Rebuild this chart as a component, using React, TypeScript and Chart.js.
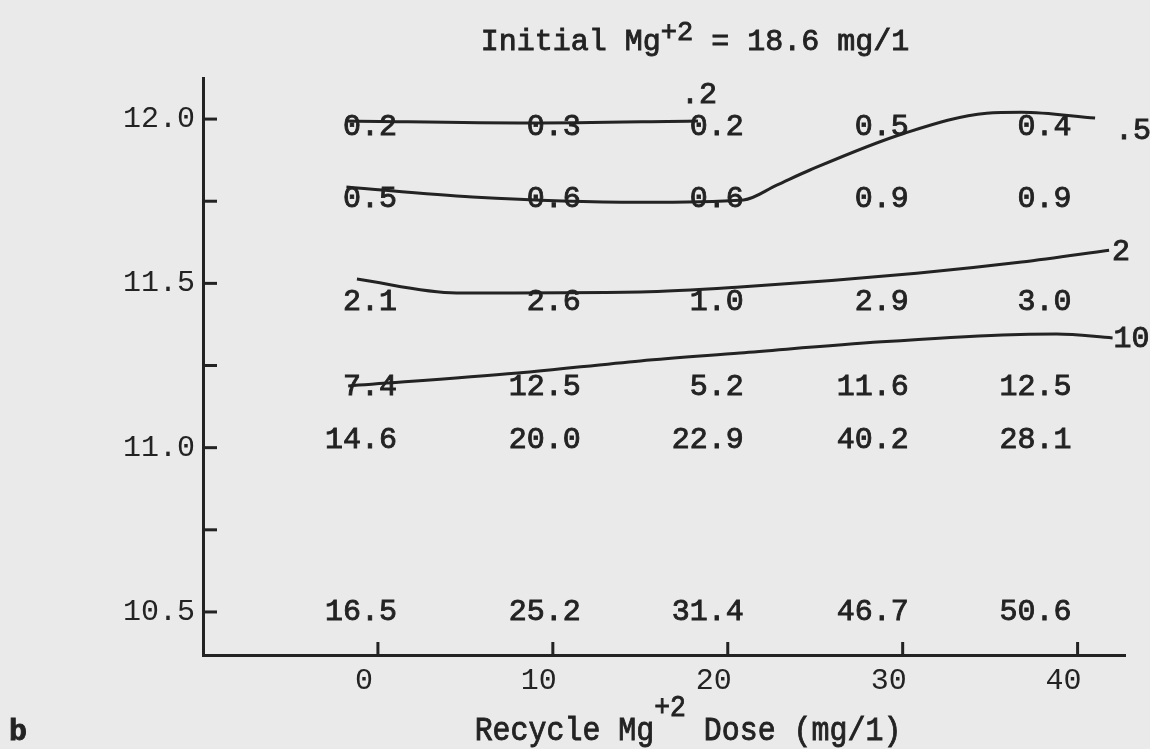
import React, { useEffect, useRef } from "react";
import { Chart, registerables } from "chart.js";

Chart.register(...registerables);

// ---------------- data ----------------
const doses = [0, 10, 20, 30, 40]; // Recycle Mg+2 dose (mg/l)
const phRows = [12.0, 11.75, 11.5, 11.25, 11.0, 10.5];

const valuesPH120 = ["0.2", "0.3", "0.2", "0.5", "0.4"];
const valuesPH1175 = ["0.5", "0.6", "0.6", "0.9", "0.9"];
const valuesPH115 = ["2.1", "2.6", "1.0", "2.9", "3.0"];
const valuesPH1125 = ["7.4", "12.5", "5.2", "11.6", "12.5"];
const valuesPH110 = ["14.6", "20.0", "22.9", "40.2", "28.1"];
const valuesPH105 = ["16.5", "25.2", "31.4", "46.7", "50.6"];

const xTickValues = [0, 10, 20, 30, 40];
const yTickValues = [10.5, 10.75, 11.0, 11.25, 11.5, 11.75, 12.0];
const yLabeledTicks = [10.5, 11.0, 11.5, 12.0];

// contour lines (dose, pH)
const contour02Label = ".2";
const contour02X = [-1.8, 8.7, 18.3];
const contour02Y = [11.994, 11.988, 11.994];

const contour05Label = ".5";
const contour05X = [-1.8, 5.4, 15.0, 20.9, 22.8, 24.7, 30.1, 34.8, 36.8, 41.0];
const contour05Y = [11.793, 11.763, 11.747, 11.754, 11.799, 11.845, 11.957, 12.018, 12.021, 12.003];

const contour2Label = "2";
const contour2X = [-1.2, 4.5, 15.0, 20.7, 30.8, 36.8, 41.8];
const contour2Y = [11.513, 11.471, 11.474, 11.489, 11.531, 11.565, 11.601];

const contour10Label = "10";
const contour10X = [-1.7, 8.0, 15.0, 20.7, 28.8, 35.7, 38.8, 42.0];
const contour10Y = [11.188, 11.227, 11.264, 11.288, 11.322, 11.343, 11.346, 11.334];

const titleMain = "Initial Mg";
const titleSup = "+2";
const titleRest = " = 18.6 mg/1";
const xTitleMain = "Recycle Mg";
const xTitleSup = "+2";
const xTitleRest = " Dose (mg/1)";
const panelLabel = "b";

// ---------------- style ----------------
const INK = "#232323";
const BG = "#eaeaea";
const MONO = '"Liberation Mono", "Courier New", monospace';

const valueRows = [valuesPH120, valuesPH1175, valuesPH115, valuesPH1125, valuesPH110, valuesPH105];
const rowBaselineShift = [16, 6, 27, 29, 0, 8];
const colRightShift = [19, 28, 16, 6, -6];

const contours = [
  { label: contour02Label, xs: contour02X, ys: contour02Y, dx: -17, dy: -18, align: "left" },
  { label: contour05Label, xs: contour05X, ys: contour05Y, dx: 20, dy: 21, align: "left" },
  { label: contour2Label, xs: contour2X, ys: contour2Y, dx: 3, dy: 10, align: "left" },
  { label: contour10Label, xs: contour10X, ys: contour10Y, dx: 1, dy: 9, align: "left" },
];

function typeText(ctx: CanvasRenderingContext2D, text: string, x: number, y: number, size: number, align: CanvasTextAlign = "left", sx = 1, bold = false) {
  ctx.save();
  ctx.font = `${bold ? "bold " : ""}${size}px ${MONO}`;
  const w = ctx.measureText(text).width * sx;
  ctx.textAlign = align;
  ctx.textBaseline = "alphabetic";
  ctx.translate(x, y);
  ctx.scale(sx, 1);
  ctx.fillStyle = INK;
  ctx.strokeStyle = INK;
  ctx.lineWidth = 0.9;
  ctx.fillText(text, 0, 0);
  ctx.strokeText(text, 0, 0);
  ctx.restore();
  return w;
}

function measure(ctx: CanvasRenderingContext2D, text: string, size: number, sx = 1) {
  ctx.save();
  ctx.font = `${size}px ${MONO}`;
  const w = ctx.measureText(text).width * sx;
  ctx.restore();
  return w;
}

const paperPlugin = {
  id: "paper",
  beforeDraw(chart: any) {
    const ctx = chart.ctx;
    ctx.save();
    ctx.fillStyle = BG;
    ctx.fillRect(0, 0, chart.width, chart.height);
    ctx.restore();
  },
  afterDraw(chart: any) {
    const ctx: CanvasRenderingContext2D = chart.ctx;
    const xs = chart.scales.x;
    const ys = chart.scales.y;
    const area = chart.chartArea;

    // inward tick marks
    ctx.save();
    ctx.strokeStyle = INK;
    ctx.lineWidth = 3;
    for (const v of yTickValues) {
      const py = ys.getPixelForValue(v);
      ctx.beginPath();
      ctx.moveTo(area.left, py);
      ctx.lineTo(area.left + 14, py);
      ctx.stroke();
    }
    for (const v of xTickValues) {
      const px = xs.getPixelForValue(v);
      ctx.beginPath();
      ctx.moveTo(px, area.bottom);
      ctx.lineTo(px, area.bottom - 13);
      ctx.stroke();
    }
    ctx.restore();

    // typed values at (dose, pH)
    valueRows.forEach((row, i) => {
      const py = ys.getPixelForValue(phRows[i]) + rowBaselineShift[i];
      row.forEach((txt, j) => {
        const px = xs.getPixelForValue(doses[j]) + colRightShift[j];
        typeText(ctx, txt, px, py, 30, "right");
      });
    });

    // contour labels at line ends
    for (const c of contours) {
      const n = c.xs.length - 1;
      const px = xs.getPixelForValue(c.xs[n]) + c.dx;
      const py = ys.getPixelForValue(c.ys[n]) + c.dy;
      typeText(ctx, c.label, px, py, 30, c.align as CanvasTextAlign);
    }

    // title with superscript
    {
      const w1 = measure(ctx, titleMain, 30);
      const w2 = measure(ctx, titleSup, 27);
      const w3 = measure(ctx, titleRest, 30);
      let left = 695 - (w1 + w2 + w3) / 2;
      typeText(ctx, titleMain, left, 50, 30);
      left += w1;
      typeText(ctx, titleSup, left, 40, 27);
      left += w2;
      typeText(ctx, titleRest, left, 50, 30);
    }

    // x axis title with superscript (narrow face)
    {
      const sx = 0.88;
      const w1 = measure(ctx, xTitleMain, 34, sx);
      const w2 = measure(ctx, xTitleSup, 30, sx);
      const w3 = measure(ctx, xTitleRest, 34, sx);
      let left = 688 - (w1 + w2 + w3) / 2;
      typeText(ctx, xTitleMain, left, 740, 34, "left", sx);
      left += w1;
      typeText(ctx, xTitleSup, left, 716, 30, "left", sx);
      left += w2;
      typeText(ctx, xTitleRest, left, 740, 34, "left", sx);
    }

    typeText(ctx, panelLabel, 9, 740, 30, "left", 1, true);
  },
};

export default function App() {
  const canvasRef = useRef<HTMLCanvasElement | null>(null);

  useEffect(() => {
    if (!canvasRef.current) return;
    const datasets = contours.map((c) => ({
      label: c.label,
      data: c.xs.map((x, k) => ({ x, y: c.ys[k] })),
      borderColor: INK,
      borderWidth: 3,
      pointRadius: 0,
      fill: false,
      cubicInterpolationMode: "monotone" as const,
      clip: false as any,
    }));

    const chart = new Chart(canvasRef.current, {
      type: "line",
      data: { datasets },
      options: {
        responsive: false,
        animation: false,
        devicePixelRatio: 1,
        layout: { padding: { left: 0, right: 25, top: 78, bottom: 0 } },
        plugins: { legend: { display: false }, tooltip: { enabled: false } },
        scales: {
          x: {
            type: "linear",
            min: -10.0,
            max: 42.71,
            grid: { display: false, drawTicks: false, tickLength: 0 },
            border: { display: true, color: INK, width: 3 },
            ticks: {
              color: INK,
              font: { family: MONO, size: 30 },
              padding: 8,
              labelOffset: -14,
              maxRotation: 0,
              autoSkip: false,
              callback: (v: any) => String(v),
            },
            afterBuildTicks: (axis: any) => {
              axis.ticks = xTickValues.map((v) => ({ value: v }));
            },
            afterFit: (scale: any) => {
              scale.height = 94;
            },
          },
          y: {
            type: "linear",
            min: 10.369,
            max: 12.125,
            grid: { display: false, drawTicks: false, tickLength: 0 },
            border: { display: true, color: INK, width: 3 },
            ticks: {
              color: INK,
              font: { family: MONO, size: 30 },
              padding: 8,
              autoSkip: false,
              callback: (v: any) => (yLabeledTicks.includes(v) ? Number(v).toFixed(1) : ""),
            },
            afterBuildTicks: (axis: any) => {
              axis.ticks = yTickValues.map((v) => ({ value: v }));
            },
            afterFit: (scale: any) => {
              scale.width = 203;
            },
          },
        },
      },
      plugins: [paperPlugin],
    });
    return () => chart.destroy();
  }, []);

  return (
    <div style={{ position: "fixed", left: 0, top: 0, width: 1150, height: 749, background: BG }}>
      <canvas ref={canvasRef} width={1150} height={749} style={{ display: "block", width: 1150, height: 749 }} />
    </div>
  );
}
